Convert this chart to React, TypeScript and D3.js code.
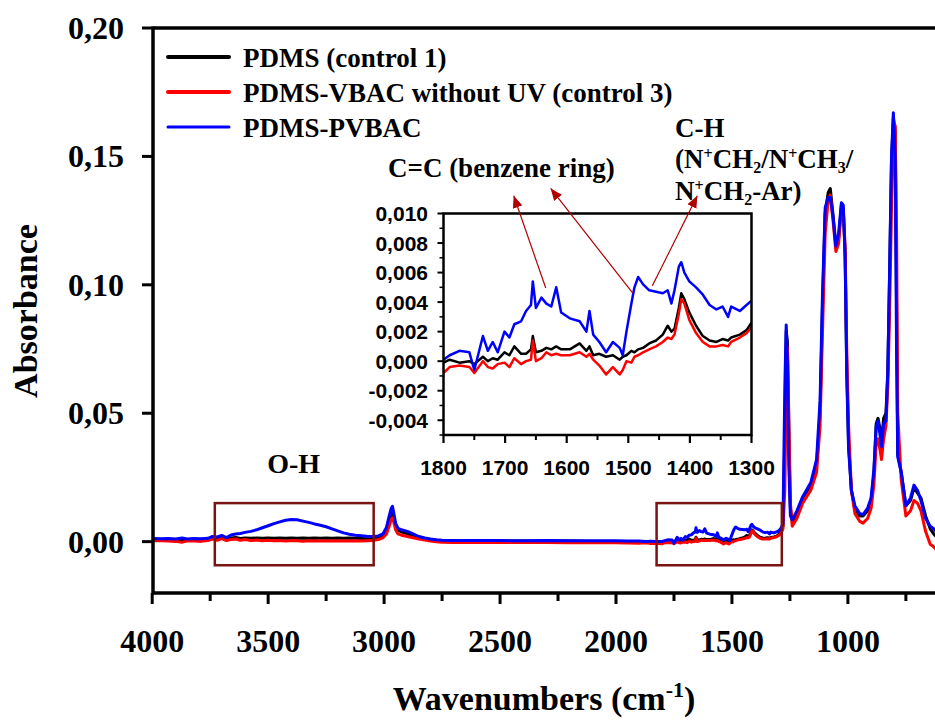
import React, { useEffect, useRef } from 'react';
import * as d3 from 'd3';

// ---- data ----
// high wavenumber part (4000 -> 1830)
const wnHigh = [4000, 3960, 3930, 3900, 3870, 3850, 3820, 3790, 3760, 3740, 3720, 3700, 3680, 3660, 3640, 3620, 3600, 3575, 3550, 3525, 3500, 3475, 3450, 3425, 3400, 3375, 3350, 3325, 3300, 3275, 3250, 3225, 3200, 3175, 3150, 3125, 3100, 3075, 3050, 3025, 3005, 2990, 2978, 2970, 2964, 2958, 2950, 2940, 2925, 2900, 2875, 2850, 2825, 2800, 2775, 2750, 2700, 2600, 2500, 2400, 2300, 2200, 2100, 2000, 1950, 1900, 1870, 1850, 1830];
const pdmsHigh = [0.0009, 0.0008, 0.0007, 0.0006, 0.0009, 0.0007, 0.0008, 0.0007, 0.0010, 0.0016, 0.0012, 0.0018, 0.0010, 0.0014, 0.0016, 0.0012, 0.0014, 0.0013, 0.0014, 0.0013, 0.0014, 0.0013, 0.0014, 0.0013, 0.0014, 0.0013, 0.0014, 0.0013, 0.0014, 0.0013, 0.0014, 0.0013, 0.0014, 0.0013, 0.0014, 0.0013, 0.0012, 0.0011, 0.0010, 0.0014, 0.0022, 0.0040, 0.0075, 0.0105, 0.0118, 0.0095, 0.0060, 0.0045, 0.0038, 0.0030, 0.0024, 0.0018, 0.0012, 0.0008, 0.0005, 0.0004, 0.0003, 0.0002, 0.0002, 0.0002, 0.0002, 0.0002, 0.0001, 0.0001, 0.0001, 0.0000, 0.0001, 0.0000, -0.0001];
const vbacHigh = [0.0004, 0.0003, 0.0002, 0.0001, -0.0002, 0.0002, 0.0003, 0.0001, 0.0004, 0.0010, 0.0005, 0.0012, 0.0004, 0.0008, 0.0010, 0.0005, 0.0008, 0.0004, 0.0006, 0.0003, 0.0005, 0.0003, 0.0004, 0.0002, 0.0004, 0.0003, 0.0001, 0.0003, 0.0002, 0.0003, 0.0002, 0.0003, 0.0002, 0.0003, 0.0002, 0.0003, 0.0002, 0.0003, 0.0004, 0.0008, 0.0015, 0.0030, 0.0060, 0.0085, 0.0093, 0.0075, 0.0045, 0.0030, 0.0025, 0.0020, 0.0015, 0.0010, 0.0006, 0.0002, 0.0000, -0.0002, -0.0003, -0.0003, -0.0003, -0.0003, -0.0003, -0.0004, -0.0004, -0.0004, -0.0005, -0.0006, -0.0004, -0.0007, -0.0006];
const pvbacHigh = [0.0012, 0.0011, 0.0012, 0.0010, 0.0014, 0.0010, 0.0012, 0.0011, 0.0013, 0.0020, 0.0018, 0.0024, 0.0016, 0.0026, 0.0030, 0.0032, 0.0036, 0.0040, 0.0046, 0.0054, 0.0062, 0.0070, 0.0077, 0.0083, 0.0086, 0.0085, 0.0080, 0.0075, 0.0069, 0.0064, 0.0058, 0.0050, 0.0042, 0.0034, 0.0029, 0.0025, 0.0023, 0.0021, 0.0020, 0.0022, 0.0030, 0.0055, 0.0100, 0.0128, 0.0138, 0.0110, 0.0070, 0.0052, 0.0046, 0.0040, 0.0030, 0.0020, 0.0014, 0.0010, 0.0007, 0.0005, 0.0004, 0.0004, 0.0004, 0.0003, 0.0004, 0.0003, 0.0003, 0.0003, 0.0002, 0.0002, 0.0001, 0.0002, 0.0001];

// 1800 -> 1300 (shown in the inset, also used in the main plot)
const wnInset = [1800, 1790, 1774, 1758, 1750, 1736, 1728, 1720, 1712, 1701, 1693, 1685, 1674, 1666, 1658, 1655, 1650, 1641, 1633, 1625, 1617, 1609, 1595, 1579, 1568, 1563, 1557, 1547, 1536, 1525, 1514, 1509, 1503, 1495, 1490, 1484, 1476, 1466, 1455, 1444, 1436, 1430, 1425, 1418, 1414, 1409, 1401, 1390, 1379, 1368, 1357, 1347, 1338, 1333, 1319, 1308, 1300];
const pdmsInset = [-0.0001, 0.0001, -0.0001, 0.0000, -0.0002, 0.0003, 0.0000, 0.0002, 0.0001, 0.0006, 0.0004, 0.0010, 0.0005, 0.0005, 0.0008, 0.0017, 0.0006, 0.0007, 0.0009, 0.0008, 0.0010, 0.0008, 0.0008, 0.0012, 0.0007, 0.0010, 0.0004, 0.0005, 0.0003, 0.0004, 0.0001, 0.0003, 0.0004, 0.0007, 0.0006, 0.0008, 0.0009, 0.0012, 0.0014, 0.0018, 0.0024, 0.0020, 0.0022, 0.0036, 0.0046, 0.0042, 0.0033, 0.0024, 0.0017, 0.0014, 0.0013, 0.0015, 0.0014, 0.0016, 0.0018, 0.0021, 0.0026];
const vbacInset = [-0.0008, -0.0004, -0.0003, -0.0004, -0.0008, 0.0000, -0.0004, -0.0005, -0.0002, -0.0001, -0.0004, 0.0002, -0.0002, 0.0000, 0.0001, 0.0014, 0.0000, 0.0002, 0.0006, 0.0004, 0.0005, 0.0004, 0.0004, 0.0006, 0.0003, 0.0005, 0.0001, -0.0003, -0.0009, -0.0004, -0.0009, -0.0006, 0.0000, -0.0001, 0.0003, 0.0004, 0.0006, 0.0008, 0.0010, 0.0013, 0.0016, 0.0015, 0.0018, 0.0032, 0.0042, 0.0039, 0.0028, 0.0019, 0.0013, 0.0010, 0.0010, 0.0011, 0.0010, 0.0013, 0.0016, 0.0019, 0.0023];
const pvbacInset = [0.0001, 0.0004, 0.0007, 0.0006, -0.0006, 0.0017, 0.0007, 0.0013, 0.0006, 0.0020, 0.0016, 0.0025, 0.0027, 0.0034, 0.0038, 0.0054, 0.0036, 0.0043, 0.0039, 0.0037, 0.0050, 0.0033, 0.0029, 0.0027, 0.0020, 0.0034, 0.0018, 0.0013, 0.0006, 0.0013, 0.0009, 0.0004, 0.0020, 0.0039, 0.0050, 0.0057, 0.0052, 0.0048, 0.0047, 0.0046, 0.0048, 0.0039, 0.0048, 0.0064, 0.0067, 0.0060, 0.0054, 0.0050, 0.0045, 0.0038, 0.0035, 0.0037, 0.0030, 0.0037, 0.0034, 0.0038, 0.0041];

// fingerprint part (1290 -> 600)
const wnLow = [1290, 1280, 1272, 1266, 1261, 1255, 1248, 1240, 1220, 1195, 1160, 1135, 1120, 1110, 1098, 1085, 1076, 1065, 1052, 1040, 1028, 1020, 1012, 1005, 997, 985, 970, 950, 935, 915, 900, 888, 878, 870, 862, 855, 846, 836, 828, 820, 812, 804, 796, 790, 785, 770, 750, 730, 715, 700, 685, 665, 645, 630, 610, 600];
const pdmsLow = [0.004, 0.006, 0.040, 0.082, 0.078, 0.045, 0.013, 0.008, 0.011, 0.017, 0.022, 0.030, 0.050, 0.090, 0.128, 0.136, 0.1375, 0.128, 0.116, 0.118, 0.131, 0.130, 0.112, 0.067, 0.038, 0.020, 0.013, 0.010, 0.010, 0.012, 0.016, 0.026, 0.046, 0.048, 0.044, 0.039, 0.048, 0.050, 0.066, 0.105, 0.148, 0.165, 0.160, 0.090, 0.034, 0.027, 0.014, 0.016, 0.021, 0.019, 0.017, 0.010, 0.005, 0.003, 0.001, 0.000];
const vbacLow = [0.003, 0.005, 0.020, 0.060, 0.076, 0.050, 0.015, 0.006, 0.009, 0.015, 0.020, 0.027, 0.045, 0.080, 0.120, 0.133, 0.135, 0.126, 0.113, 0.116, 0.130, 0.129, 0.115, 0.075, 0.045, 0.020, 0.011, 0.008, 0.0072, 0.009, 0.013, 0.022, 0.038, 0.040, 0.036, 0.032, 0.040, 0.045, 0.060, 0.090, 0.130, 0.155, 0.162, 0.120, 0.050, 0.024, 0.010, 0.012, 0.016, 0.015, 0.012, 0.004, -0.001, -0.002, -0.004, -0.004];
const pvbacLow = [0.005, 0.007, 0.060, 0.0844, 0.070, 0.030, 0.010, 0.0085, 0.012, 0.0175, 0.023, 0.032, 0.055, 0.095, 0.130, 0.134, 0.134, 0.127, 0.115, 0.120, 0.132, 0.131, 0.111, 0.065, 0.036, 0.020, 0.014, 0.011, 0.0105, 0.013, 0.017, 0.028, 0.045, 0.047, 0.042, 0.037, 0.046, 0.047, 0.066, 0.106, 0.150, 0.167, 0.150, 0.072, 0.033, 0.027, 0.014, 0.017, 0.022, 0.020, 0.016, 0.009, 0.006, 0.005, 0.003, 0.002];

const seriesNames = ['PDMS (control 1)', 'PDMS-VBAC without UV (control 3)', 'PDMS-PVBAC'];
const seriesColors = ['#000000', '#ff0000', '#0000ff'];

const xTicks = [4000, 3500, 3000, 2500, 2000, 1500, 1000];
const xMinorTicks = [3750, 3250, 2750, 2250, 1750, 1250, 750];
const yTicks = [0, 0.05, 0.1, 0.15, 0.2];
const insetXTicks = [1800, 1700, 1600, 1500, 1400, 1300];
const insetXMinor = [1750, 1650, 1550, 1450, 1350];
const insetYTicks = [-0.004, -0.002, 0, 0.002, 0.004, 0.006, 0.008, 0.01];
const insetYMinor = [-0.005, -0.003, -0.001, 0.001, 0.003, 0.005, 0.007, 0.009];

// highlighted regions (wavenumber ranges) and their vertical extent
const boxRanges = [[3730, 3045], [1825, 1285]];
const boxY = [0.015, -0.0092];

// arrows in inset coordinates: [tail wn, tail abs, head wn, head abs]
const arrows = [
  [1634, 0.00495, 1686, 0.0112],
  [1493, 0.00462, 1626, 0.0117],
  [1461, 0.0051, 1388, 0.0112],
];

const SERIF = "'Liberation Serif', 'Times New Roman', serif";
const SANS = "'Liberation Sans', Arial, sans-serif";

const comma = (f: string) => (v: number) => d3.format(f)(v).replace('.', ',').replace('−', '-');

const App = () => {
  const ref = useRef<SVGSVGElement>(null);

  useEffect(() => {
    document.body.style.margin = '0';
    const svg = d3.select(ref.current);
    svg.selectAll('*').remove();

    const W = 935;
    const left = 153, top = 28, bottom = 593;

    const x = d3.scaleLinear().domain([4000, 400]).range([152.2, 152.2 + 3600 * 0.2319]);
    const y = d3.scaleLinear().domain([-0.02, 0.2]).range([bottom, top]);

    const wnAll = [...wnHigh, ...wnInset, ...wnLow];
    const series = [
      [...pdmsHigh, ...pdmsInset, ...pdmsLow],
      [...vbacHigh, ...vbacInset, ...vbacLow],
      [...pvbacHigh, ...pvbacInset, ...pvbacLow],
    ];

    const defs = svg.append('defs');
    defs.append('clipPath').attr('id', 'mainClip')
      .append('rect').attr('x', left).attr('y', top).attr('width', W - left).attr('height', bottom - top);
    defs.append('marker')
      .attr('id', 'arrowHead')
      .attr('markerUnits', 'userSpaceOnUse')
      .attr('markerWidth', 13).attr('markerHeight', 10)
      .attr('refX', 12).attr('refY', 5)
      .attr('orient', 'auto')
      .append('path').attr('d', 'M0,0 L12,5 L0,10 Z').attr('fill', '#b00000');

    // main spectra
    const line = d3.line<number>()
      .x((_, i) => x(wnAll[i]))
      .y(d => y(d));

    const gLines = svg.append('g').attr('clip-path', 'url(#mainClip)');
    series.forEach((s, i) => {
      gLines.append('path')
        .datum(s)
        .attr('fill', 'none')
        .attr('stroke', seriesColors[i])
        .attr('stroke-width', 3)
        .attr('stroke-linejoin', 'round')
        .attr('d', line);
    });

    // highlighted boxes
    boxRanges.forEach(([a, b]) => {
      svg.append('rect')
        .attr('x', x(a)).attr('y', y(boxY[0]))
        .attr('width', x(b) - x(a)).attr('height', y(boxY[1]) - y(boxY[0]))
        .attr('fill', 'none')
        .attr('stroke', '#7a1414')
        .attr('stroke-width', 2.5);
    });

    svg.append('text')
      .attr('x', x(3390)).attr('y', 473)
      .attr('text-anchor', 'middle')
      .attr('font-family', SERIF).attr('font-weight', 'bold').attr('font-size', 28)
      .text('O-H');

    // frame + axes
    svg.append('line').attr('x1', left).attr('x2', W).attr('y1', top).attr('y2', top)
      .attr('stroke', '#000').attr('stroke-width', 3.5);
    svg.append('line').attr('x1', left).attr('x2', W).attr('y1', bottom).attr('y2', bottom)
      .attr('stroke', '#000').attr('stroke-width', 3.5);
    svg.append('line').attr('x1', left).attr('x2', left).attr('y1', top - 1.5).attr('y2', bottom + 1.5)
      .attr('stroke', '#000').attr('stroke-width', 3.5);

    const gx = svg.append('g');
    xTicks.forEach(t => {
      gx.append('line').attr('x1', x(t)).attr('x2', x(t)).attr('y1', bottom).attr('y2', bottom + 11)
        .attr('stroke', '#000').attr('stroke-width', 3);
      gx.append('text').attr('x', x(t)).attr('y', 652)
        .attr('text-anchor', 'middle')
        .attr('font-family', SERIF).attr('font-weight', 'bold').attr('font-size', 32)
        .text(t);
    });
    xMinorTicks.forEach(t => {
      gx.append('line').attr('x1', x(t)).attr('x2', x(t)).attr('y1', bottom).attr('y2', bottom + 8)
        .attr('stroke', '#000').attr('stroke-width', 3);
    });

    const gy = svg.append('g');
    yTicks.forEach(t => {
      gy.append('line').attr('x1', left - 11).attr('x2', left).attr('y1', y(t)).attr('y2', y(t))
        .attr('stroke', '#000').attr('stroke-width', 3);
      gy.append('text').attr('x', 124).attr('y', y(t) + 11)
        .attr('text-anchor', 'end')
        .attr('font-family', SERIF).attr('font-weight', 'bold').attr('font-size', 32)
        .text(comma('.2f')(t));
    });

    svg.append('text')
      .attr('transform', 'translate(37,311) rotate(-90)')
      .attr('text-anchor', 'middle')
      .attr('font-family', SERIF).attr('font-weight', 'bold').attr('font-size', 34)
      .text('Absorbance');

    const xt = svg.append('text')
      .attr('x', 544).attr('y', 710)
      .attr('text-anchor', 'middle')
      .attr('font-family', SERIF).attr('font-weight', 'bold').attr('font-size', 34);
    xt.append('tspan').text('Wavenumbers (cm');
    xt.append('tspan').attr('dy', -13).attr('font-size', 22).text('-1');
    xt.append('tspan').attr('dy', 13).text(')');

    // legend
    const legendY = [57, 92, 127];
    seriesNames.forEach((name, i) => {
      svg.append('line').attr('x1', 168).attr('x2', 229).attr('y1', legendY[i]).attr('y2', legendY[i])
        .attr('stroke', seriesColors[i]).attr('stroke-width', i === 2 ? 3 : 4).attr('stroke-linecap', 'round');
      svg.append('text').attr('x', 243).attr('y', legendY[i] + 9.5)
        .attr('font-family', SERIF).attr('font-weight', 'bold').attr('font-size', 27)
        .text(name);
    });

    // ---- inset ----
    const ix = d3.scaleLinear().domain([1800, 1300]).range([443.5, 751.5]);
    const iy = d3.scaleLinear().domain([-0.005, 0.01]).range([435, 213.5]);

    defs.append('clipPath').attr('id', 'insetClip')
      .append('rect').attr('x', ix(1800)).attr('y', iy(0.01)).attr('width', ix(1300) - ix(1800)).attr('height', iy(-0.005) - iy(0.01));

    svg.append('rect')
      .attr('x', ix(1800)).attr('y', iy(0.01))
      .attr('width', ix(1300) - ix(1800)).attr('height', iy(-0.005) - iy(0.01))
      .attr('fill', '#fff');

    const iline = d3.line<number>()
      .x((_, i) => ix(wnInset[i]))
      .y(d => iy(d));
    const gi = svg.append('g').attr('clip-path', 'url(#insetClip)');
    [pdmsInset, vbacInset, pvbacInset].forEach((s, i) => {
      gi.append('path')
        .datum(s)
        .attr('fill', 'none')
        .attr('stroke', seriesColors[i])
        .attr('stroke-width', 2.5)
        .attr('stroke-linejoin', 'round')
        .attr('d', iline);
    });

    svg.append('rect')
      .attr('x', ix(1800)).attr('y', iy(0.01))
      .attr('width', ix(1300) - ix(1800)).attr('height', iy(-0.005) - iy(0.01))
      .attr('fill', 'none').attr('stroke', '#000').attr('stroke-width', 2.5);

    insetXTicks.forEach(t => {
      svg.append('line').attr('x1', ix(t)).attr('x2', ix(t)).attr('y1', iy(-0.005)).attr('y2', iy(-0.005) + 8)
        .attr('stroke', '#000').attr('stroke-width', 2.2);
      svg.append('text').attr('x', ix(t)).attr('y', 475)
        .attr('text-anchor', 'middle')
        .attr('font-family', SANS).attr('font-weight', 'bold').attr('font-size', 21)
        .text(t);
    });
    insetXMinor.forEach(t => {
      svg.append('line').attr('x1', ix(t)).attr('x2', ix(t)).attr('y1', iy(-0.005)).attr('y2', iy(-0.005) + 5)
        .attr('stroke', '#000').attr('stroke-width', 2);
    });
    insetYTicks.forEach(t => {
      svg.append('line').attr('x1', ix(1800) - 6).attr('x2', ix(1800)).attr('y1', iy(t)).attr('y2', iy(t))
        .attr('stroke', '#000').attr('stroke-width', 2);
      svg.append('text').attr('x', 428).attr('y', iy(t) + 7.5)
        .attr('text-anchor', 'end')
        .attr('font-family', SANS).attr('font-weight', 'bold').attr('font-size', 21)
        .text(comma('.3f')(t));
    });
    insetYMinor.forEach(t => {
      svg.append('line').attr('x1', ix(1800) - 4).attr('x2', ix(1800)).attr('y1', iy(t)).attr('y2', iy(t))
        .attr('stroke', '#000').attr('stroke-width', 1.5);
    });

    // arrows
    arrows.forEach(([w0, a0, w1, a1]) => {
      svg.append('line')
        .attr('x1', ix(w0)).attr('y1', iy(a0))
        .attr('x2', ix(w1)).attr('y2', iy(a1))
        .attr('stroke', '#b00000').attr('stroke-width', 1.2)
        .attr('marker-end', 'url(#arrowHead)');
    });

    // annotation texts
    const rich = (tx: number, ty: number, parts: [string, string][]) => {
      const t = svg.append('text').attr('x', tx).attr('y', ty)
        .attr('font-family', SERIF).attr('font-weight', 'bold').attr('font-size', 27);
      let shift = 0;
      parts.forEach(([s, kind]) => {
        const target = kind === 'sup' ? -9 : kind === 'sub' ? 5 : 0;
        const sp = t.append('tspan').attr('dy', target - shift).text(s);
        if (kind !== 'n') sp.attr('font-size', 16);
        shift = target;
      });
    };

    rich(388, 177, [['C=C (benzene ring)', 'n']]);
    rich(675, 137, [['C-H', 'n']]);
    rich(675, 168, [['(N', 'n'], ['+', 'sup'], ['CH', 'n'], ['2', 'sub'], ['/N', 'n'], ['+', 'sup'], ['CH', 'n'], ['3', 'sub'], ['/', 'n']]);
    rich(675, 200, [['N', 'n'], ['+', 'sup'], ['CH', 'n'], ['2', 'sub'], ['-Ar)', 'n']]);
  }, []);

  return (
    <svg ref={ref} width={935} height={720} style={{ position: 'absolute', left: 0, top: 0, background: '#fff' }} />
  );
};

export default App;
